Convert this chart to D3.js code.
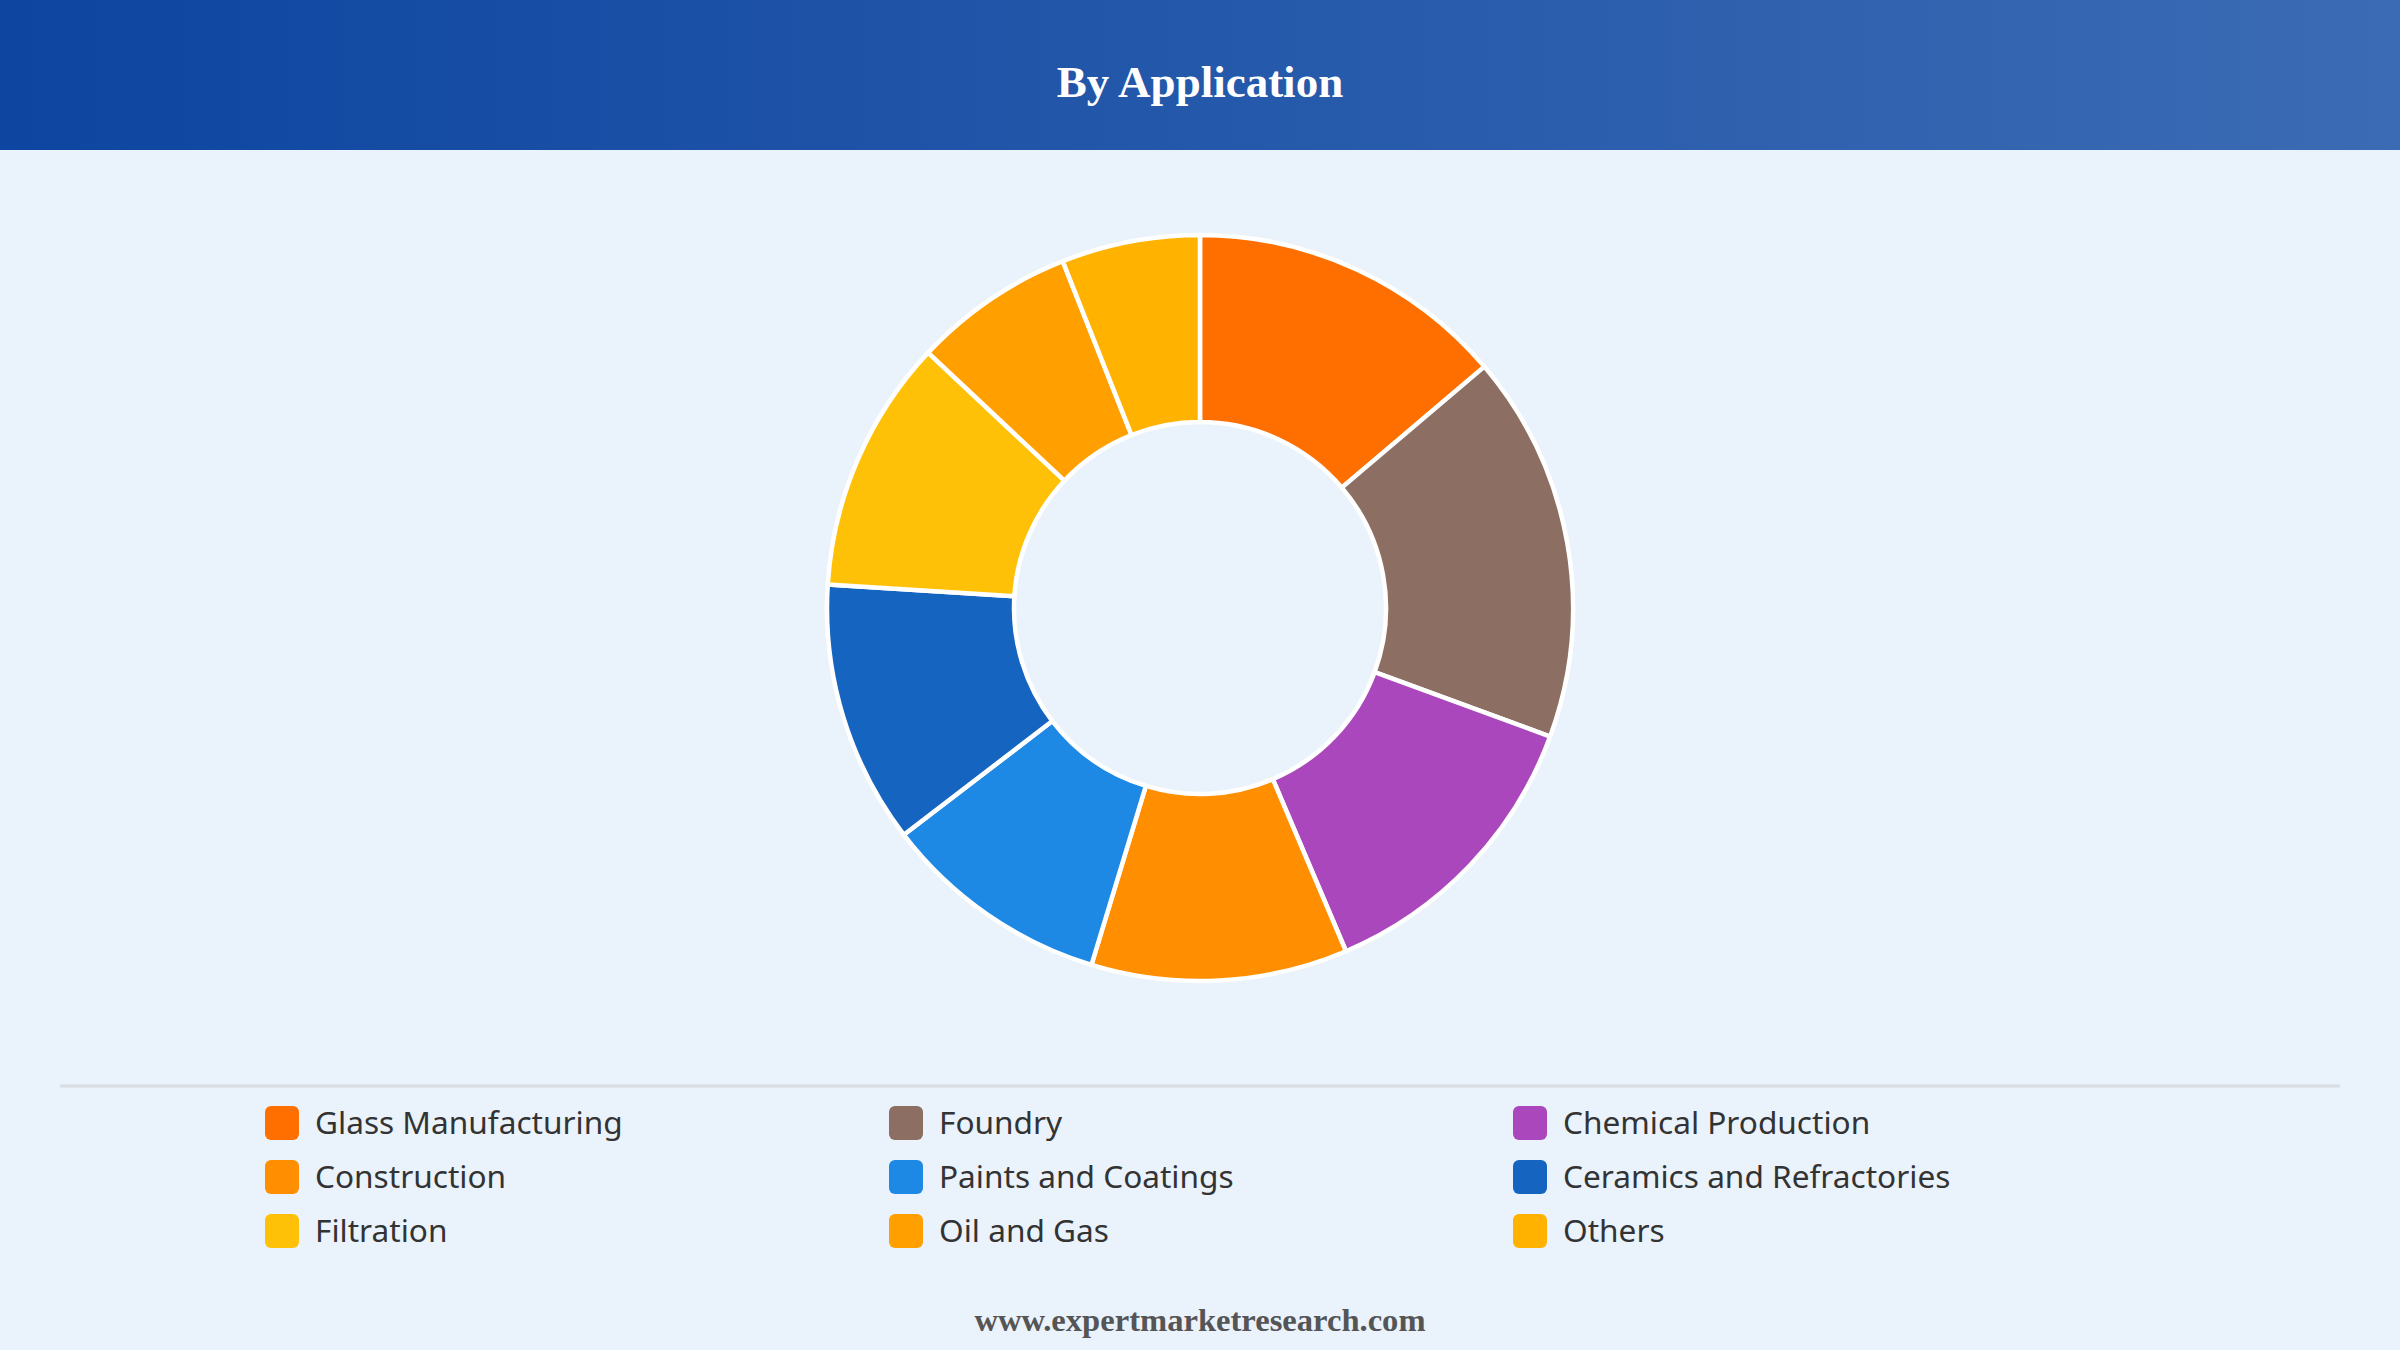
<!DOCTYPE html>
<html>
<head>
<meta charset="utf-8">
<script src="https://cdn.jsdelivr.net/npm/d3@7"></script>
<style>
  body { margin: 0; background: #eaf2fb; }
  svg { display: block; }
</style>
</head>
<body>
<div id="chart"></div>
<script>
// data (share of total, %)
var categories = ["Glass Manufacturing", "Foundry", "Chemical Production", "Construction",
                  "Paints and Coatings", "Ceramics and Refractories", "Filtration", "Oil and Gas", "Others"];
var shares = [13.8, 16.8, 13.0, 11.1, 9.9, 11.4, 11.0, 7.0, 6.0];
var colors = ["#ff6f00", "#8d6e63", "#ab47bc", "#ff8f00", "#1e88e5", "#1565c0", "#ffc107", "#ffa000", "#ffb300"];

var chartTitle = "By Application";
var footerText = "www.expertmarketresearch.com";

function drawChart() {
    var svgWidth = 2400, svgHeight = 1350;

    var svg = d3.select("#chart").append("svg")
        .attr("width", svgWidth)
        .attr("height", svgHeight);

    // header band with gradient
    var defs = svg.append("defs");
    var grad = defs.append("linearGradient")
        .attr("id", "headerGrad")
        .attr("x1", "0%").attr("x2", "100%")
        .attr("y1", "0%").attr("y2", "0%");
    grad.append("stop").attr("offset", "0%").attr("stop-color", "#0d45a0");
    grad.append("stop").attr("offset", "100%").attr("stop-color", "#3b6bb4");

    svg.append("rect")
        .attr("width", svgWidth)
        .attr("height", svgHeight)
        .attr("fill", "#eaf2fb");

    svg.append("rect")
        .attr("width", svgWidth)
        .attr("height", 150)
        .attr("fill", "url(#headerGrad)");

    svg.append("text")
        .attr("x", svgWidth / 2)
        .attr("y", 81)
        .attr("dy", "0.35em")
        .attr("text-anchor", "middle")
        .style("font", "bold 45px 'Liberation Serif', 'Times New Roman', serif")
        .style("fill", "#ffffff")
        .text(chartTitle);

    // donut
    var data = categories.map(function(name, i) {
        return { name: name, value: shares[i], color: colors[i] };
    });

    var pie = d3.pie()
        .sort(null)
        .value(function(d) { return d.value; });

    var outerR = 373, innerR = 186;
    var arc = d3.arc()
        .innerRadius(innerR)
        .outerRadius(outerR);

    var donut = svg.append("g")
        .attr("transform", "translate(" + 1200 + "," + 608 + ")");

    donut.selectAll("path")
        .data(pie(data))
        .enter().append("path")
        .attr("d", arc)
        .attr("fill", function(d) { return d.data.color; })
        .attr("stroke", "#ffffff")
        .attr("stroke-width", 4.5)
        .attr("stroke-linejoin", "round");

    // divider
    svg.append("line")
        .attr("x1", 60).attr("x2", 2340)
        .attr("y1", 1086).attr("y2", 1086)
        .attr("stroke", "#d9dde2")
        .attr("stroke-width", 3);

    // legend: 3 columns
    var colX = d3.scalePoint().domain([0, 1, 2]).range([265, 1513]);
    var rowY = d3.scalePoint().domain([0, 1, 2]).range([1123, 1231]);

    var legend = svg.selectAll(".legend-item")
        .data(data)
        .enter().append("g")
        .attr("class", "legend-item")
        .attr("transform", function(d, i) {
            return "translate(" + colX(i % 3) + "," + rowY(Math.floor(i / 3)) + ")";
        });

    legend.append("rect")
        .attr("x", 0)
        .attr("y", -17)
        .attr("width", 34)
        .attr("height", 34)
        .attr("rx", 6)
        .attr("fill", function(d) { return d.color; });

    legend.append("text")
        .attr("x", 50)
        .attr("y", 0)
        .attr("dy", "0.35em")
        .style("font", "31.6px 'Noto Sans', 'Open Sans', sans-serif")
        .style("fill", "#333333")
        .text(function(d) { return d.name; });

    // footer
    svg.append("text")
        .attr("x", svgWidth / 2)
        .attr("y", 1320)
        .attr("dy", "0.35em")
        .attr("text-anchor", "middle")
        .style("font", "bold 32.6px 'Liberation Serif', 'Times New Roman', serif")
        .style("fill", "#555555")
        .text(footerText);
}

drawChart();
</script>
</body>
</html>
